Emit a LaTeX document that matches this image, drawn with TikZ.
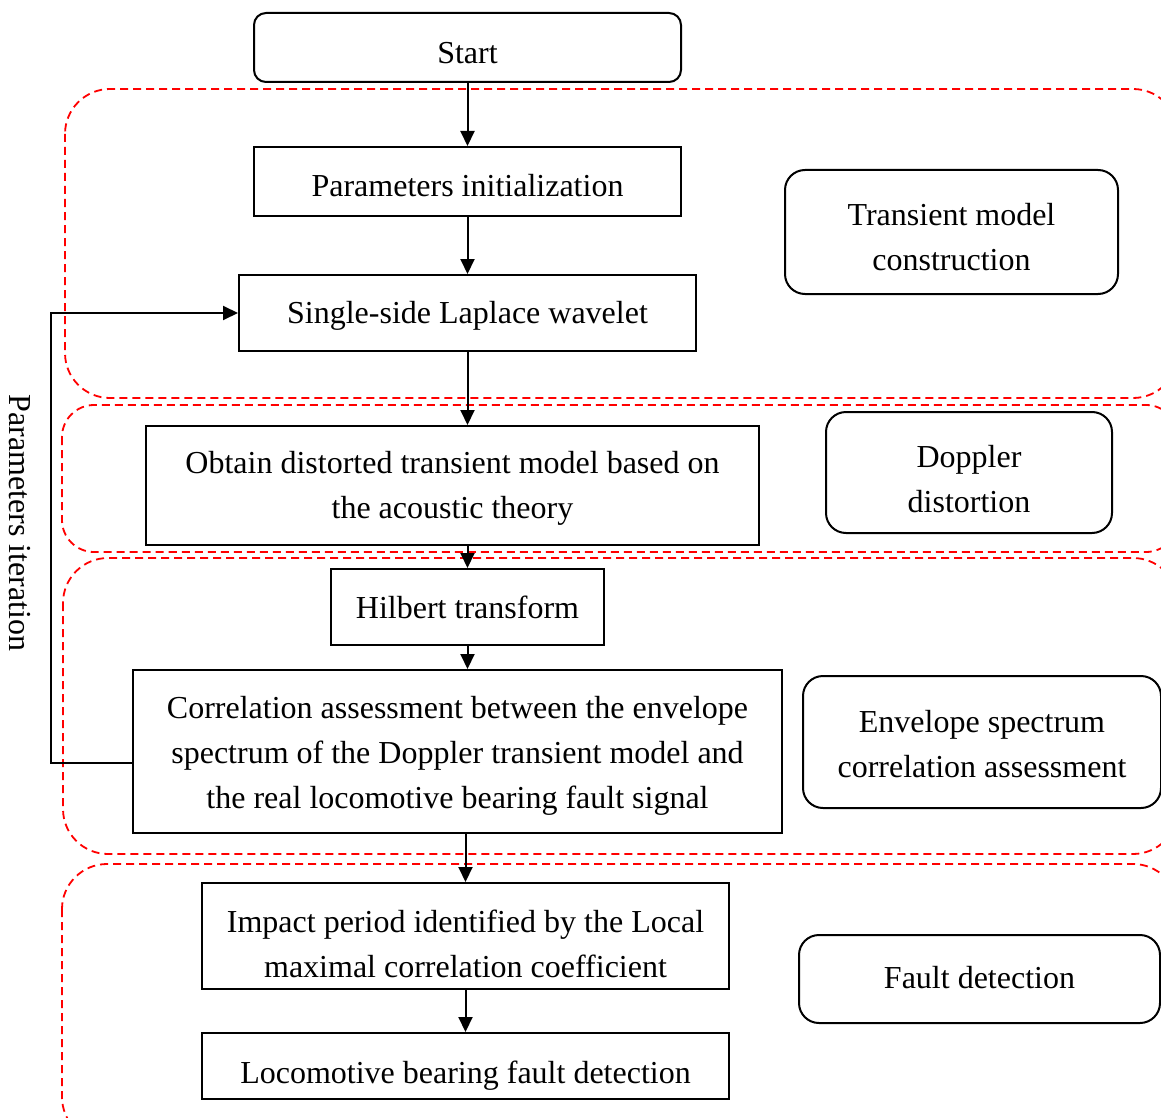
\documentclass[tikz,border=0pt]{standalone}
\usepackage{fontspec}
\setmainfont{Liberation Serif}
\usetikzlibrary{arrows.meta}
\begin{document}
\begin{tikzpicture}[x=1pt,y=-1pt,
  every node/.style={font=\fontsize{32}{45}\selectfont, inner sep=0pt},
  lbl/.style={align=center, inner sep=0pt},
  stepbox/.style={draw, line width=2pt},
  sidebox/.style={draw, line width=2pt, rounded corners=20pt},
  region/.style={draw=red, line width=1.8pt, dash pattern=on 8pt off 5pt},
  arr/.style={line width=2pt, -{Triangle[length=15pt,width=14pt]}}
]
\useasboundingbox (0,0) rectangle (1161,1118);
\clip (0,0) rectangle (1161,1118);
% regions
\draw[region, rounded corners=45pt] (65,89) rectangle (1178,398);
\draw[region, rounded corners=32pt] (62,405) rectangle (1178,552);
\draw[region, rounded corners=45pt] (63,558) rectangle (1178,854);
\draw[region, rounded corners=45pt] (62,864) rectangle (1178,1142);
% main steps
\node[stepbox, rounded corners=12pt, minimum width=427pt, minimum height=69pt,
  label={[lbl,yshift=-5.5pt]center:Start}] (start) at (467.5,47.5) {};
\node[stepbox, minimum width=427pt, minimum height=69pt,
  label={[lbl,yshift=-4.5pt]center:Parameters initialization}] (init) at (467.5,181.5) {};
\node[stepbox, minimum width=457pt, minimum height=76pt,
  label={[lbl,yshift=-3pt]center:Single-side Laplace wavelet}] (lap) at (467.5,313) {};
\node[stepbox, minimum width=613pt, minimum height=119pt,
  label={[lbl,yshift=-3pt]center:{Obtain distorted transient model based on\\the acoustic theory}}] (obt) at (452.5,485.5) {};
\node[stepbox, minimum width=273pt, minimum height=76pt,
  label={[lbl]center:Hilbert transform}] (hil) at (467.5,607) {};
\node[stepbox, minimum width=649pt, minimum height=163pt,
  label={[lbl,yshift=-4.5pt]center:{Correlation assessment between the envelope\\spectrum of the Doppler transient model and\\the real locomotive bearing fault signal}}] (cor) at (457.5,751.5) {};
\node[stepbox, minimum width=527pt, minimum height=106pt,
  label={[lbl,yshift=-7.5pt]center:{Impact period identified by the Local\\maximal correlation coefficient}}] (imp) at (465.5,936) {};
\node[stepbox, minimum width=527pt, minimum height=66pt,
  label={[lbl,yshift=-9.5pt]center:Locomotive bearing fault detection}] (loc) at (465.5,1066) {};
% side labels
\node[sidebox, minimum width=333pt, minimum height=124pt,
  label={[lbl,yshift=-5.5pt]center:{Transient model\\construction}}] (s1) at (951.5,232) {};
\node[sidebox, minimum width=286pt, minimum height=121pt,
  label={[lbl,yshift=-7pt]center:{Doppler\\distortion}}] (s2) at (969,472.5) {};
\node[sidebox, minimum width=358pt, minimum height=132pt,
  label={[lbl,yshift=-2.5pt]center:{Envelope spectrum\\correlation assessment}}] (s3) at (982,742) {};
\node[sidebox, minimum width=361pt, minimum height=88pt,
  label={[lbl,yshift=1pt]center:Fault detection}] (s4) at (979.5,979) {};
% arrows
\draw[arr] (start.south) -- (init.north);
\draw[arr] (init.south) -- (lap.north);
\draw[arr] (lap.south) -- (lap.south |- obt.north);
\draw[arr] (lap.south |- obt.south) -- (hil.north);
\draw[arr] (hil.south) -- (hil.south |- cor.north);
\draw[arr] (imp.north |- cor.south) -- (imp.north);
\draw[arr] (imp.south) -- (loc.north);
% iteration loop
\coordinate (lb) at (51,763);
\coordinate (lt) at (51,313);
\draw[arr] (lb -| cor.west) -- (lb) -- (lt) -- (lap.west);
\node[rotate=-90] (iter) at (20,523) {Parameters iteration};
\end{tikzpicture}
\end{document}
